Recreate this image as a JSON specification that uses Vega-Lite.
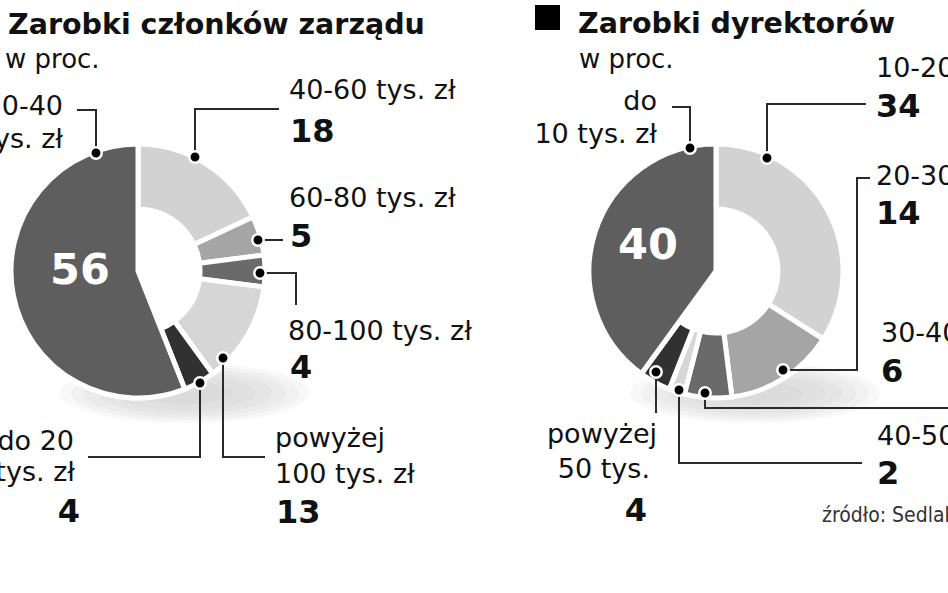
{
  "$schema": "https://vega.github.io/schema/vega-lite/v6.json",
  "width": 948,
  "height": 593,
  "padding": 0,
  "autosize": {"type": "none"},
  "background": "white",
  "config": {"view": {"stroke": null}},
  "datasets": {
    "seg": [
      {"chart": "L", "label": "40-60 tys. zł", "value": 18, "idx": 1},
      {"chart": "L", "label": "60-80 tys. zł", "value": 5, "idx": 2},
      {"chart": "L", "label": "80-100 tys. zł", "value": 4, "idx": 3},
      {"chart": "L", "label": "powyżej 100 tys. zł", "value": 13, "idx": 4},
      {"chart": "L", "label": "do 20 tys. zł", "value": 4, "idx": 5},
      {"chart": "L", "label": "20-40 tys. zł", "value": 56, "idx": 6},
      {"chart": "R", "label": "10-20 tys. zł", "value": 34, "idx": 1},
      {"chart": "R", "label": "20-30 tys. zł", "value": 14, "idx": 2},
      {"chart": "R", "label": "30-40 tys. zł", "value": 6, "idx": 3},
      {"chart": "R", "label": "40-50 tys. zł", "value": 2, "idx": 4},
      {"chart": "R", "label": "powyżej 50 tys. zł", "value": 4, "idx": 5},
      {"chart": "R", "label": "do 10 tys. zł", "value": 40, "idx": 6}
    ],
    "shadow": [
      {"chart": "L", "ring": 1, "x": 185, "y": 393}, {"chart": "R", "ring": 1, "x": 755, "y": 393},
      {"chart": "L", "ring": 2, "x": 185, "y": 393}, {"chart": "R", "ring": 2, "x": 755, "y": 393},
      {"chart": "L", "ring": 3, "x": 185, "y": 393}, {"chart": "R", "ring": 3, "x": 755, "y": 393},
      {"chart": "L", "ring": 4, "x": 185, "y": 393}, {"chart": "R", "ring": 4, "x": 755, "y": 393},
      {"chart": "L", "ring": 5, "x": 185, "y": 393}, {"chart": "R", "ring": 5, "x": 755, "y": 393},
      {"chart": "L", "ring": 6, "x": 185, "y": 393}, {"chart": "R", "ring": 6, "x": 755, "y": 393}
    ],
    "lines": [
      {"lid": "L1", "seq": 1, "x": 77, "y": 110}, {"lid": "L1", "seq": 2, "x": 96, "y": 110}, {"lid": "L1", "seq": 3, "x": 96, "y": 153},
      {"lid": "L2", "seq": 1, "x": 279, "y": 109}, {"lid": "L2", "seq": 2, "x": 195, "y": 109}, {"lid": "L2", "seq": 3, "x": 195, "y": 157},
      {"lid": "L3", "seq": 1, "x": 258, "y": 240}, {"lid": "L3", "seq": 2, "x": 283, "y": 240},
      {"lid": "L4", "seq": 1, "x": 260, "y": 273}, {"lid": "L4", "seq": 2, "x": 296, "y": 273}, {"lid": "L4", "seq": 3, "x": 296, "y": 305},
      {"lid": "L5", "seq": 1, "x": 223, "y": 358}, {"lid": "L5", "seq": 2, "x": 223, "y": 457}, {"lid": "L5", "seq": 3, "x": 265, "y": 457},
      {"lid": "L6", "seq": 1, "x": 200, "y": 383}, {"lid": "L6", "seq": 2, "x": 200, "y": 457}, {"lid": "L6", "seq": 3, "x": 88, "y": 457},
      {"lid": "R1", "seq": 1, "x": 672, "y": 107}, {"lid": "R1", "seq": 2, "x": 690, "y": 107}, {"lid": "R1", "seq": 3, "x": 690, "y": 148},
      {"lid": "R2", "seq": 1, "x": 767, "y": 158}, {"lid": "R2", "seq": 2, "x": 767, "y": 104}, {"lid": "R2", "seq": 3, "x": 866, "y": 104},
      {"lid": "R3", "seq": 1, "x": 870, "y": 178}, {"lid": "R3", "seq": 2, "x": 857, "y": 178}, {"lid": "R3", "seq": 3, "x": 857, "y": 370}, {"lid": "R3", "seq": 4, "x": 783, "y": 370},
      {"lid": "R4", "seq": 1, "x": 705, "y": 393}, {"lid": "R4", "seq": 2, "x": 705, "y": 408}, {"lid": "R4", "seq": 3, "x": 960, "y": 408},
      {"lid": "R5", "seq": 1, "x": 679, "y": 390}, {"lid": "R5", "seq": 2, "x": 679, "y": 463}, {"lid": "R5", "seq": 3, "x": 862, "y": 463},
      {"lid": "R6", "seq": 1, "x": 656, "y": 372}, {"lid": "R6", "seq": 2, "x": 656, "y": 413}
    ],
    "dots": [
      {"x": 96, "y": 153}, {"x": 195, "y": 157}, {"x": 258, "y": 240}, {"x": 260, "y": 273}, {"x": 223, "y": 358}, {"x": 200, "y": 383},
      {"x": 690, "y": 148}, {"x": 767, "y": 158}, {"x": 783, "y": 370}, {"x": 705, "y": 393}, {"x": 679, "y": 390}, {"x": 656, "y": 372}
    ],
    "marker": [{"x": 547.5, "y": 17.5}],
    "texts": [
      {"role": "title", "t": "Zarobki członków zarządu", "x": 8, "y": 34},
      {"role": "title", "t": "Zarobki dyrektorów", "x": 578, "y": 33},
      {"role": "sub", "t": "w proc.", "x": 5, "y": 68},
      {"role": "sub", "t": "w proc.", "x": 579, "y": 68},
      {"role": "rangeR", "t": "20-40", "x": 63, "y": 115},
      {"role": "rangeR", "t": "tys. zł", "x": 63, "y": 148},
      {"role": "rangeL", "t": "40-60 tys. zł", "x": 289, "y": 99},
      {"role": "numL", "t": "18", "x": 290, "y": 142},
      {"role": "rangeL", "t": "60-80 tys. zł", "x": 289, "y": 207},
      {"role": "numL", "t": "5", "x": 290, "y": 247},
      {"role": "rangeL", "t": "80-100 tys. zł", "x": 288, "y": 340},
      {"role": "numL", "t": "4", "x": 290, "y": 378},
      {"role": "rangeL", "t": "powyżej", "x": 275, "y": 447},
      {"role": "rangeL", "t": "100 tys. zł", "x": 275, "y": 483},
      {"role": "numL", "t": "13", "x": 276, "y": 523},
      {"role": "rangeR", "t": "do 20", "x": 74, "y": 450},
      {"role": "rangeR", "t": "tys. zł", "x": 75, "y": 481},
      {"role": "numR", "t": "4", "x": 80, "y": 522},
      {"role": "big", "t": "56", "x": 80, "y": 284},
      {"role": "rangeR", "t": "do", "x": 657, "y": 110},
      {"role": "rangeR", "t": "10 tys. zł", "x": 657, "y": 143},
      {"role": "rangeL", "t": "10-20 tys. zł", "x": 876, "y": 77},
      {"role": "numL", "t": "34", "x": 876, "y": 117},
      {"role": "rangeL", "t": "20-30 tys. zł", "x": 876, "y": 185},
      {"role": "numL", "t": "14", "x": 876, "y": 224},
      {"role": "rangeL", "t": "30-40 tys. zł", "x": 881, "y": 342},
      {"role": "numL", "t": "6", "x": 881, "y": 382},
      {"role": "rangeL", "t": "40-50 tys. zł", "x": 877, "y": 445},
      {"role": "numL", "t": "2", "x": 877, "y": 484},
      {"role": "rangeR", "t": "powyżej", "x": 657, "y": 443},
      {"role": "rangeR", "t": "50 tys.", "x": 650, "y": 478},
      {"role": "numR", "t": "4", "x": 647, "y": 521},
      {"role": "big", "t": "40", "x": 648, "y": 259},
      {"role": "source", "t": "źródło: Sedlak & Sedlak", "x": 822, "y": 522}
    ]
  },
  "layer": [
    {
      "data": {"name": "shadow"},
      "mark": {"type": "point", "shape": "M-1,0A1,0.24,0,1,0,1,0A1,0.24,0,1,0,-1,0Z", "filled": true, "color": "#a8a8a8", "opacity": 0.08, "strokeWidth": 0},
      "encoding": {
        "x": {"field": "x", "type": "quantitative", "scale": {"domain": [0, 948], "nice": false, "zero": false}, "axis": null},
        "y": {"field": "y", "type": "quantitative", "scale": {"domain": [0, 593], "reverse": true, "nice": false, "zero": false}, "axis": null},
        "size": {"field": "ring", "type": "quantitative", "scale": {"type": "linear", "domain": [1, 6], "range": [62500, 9000], "zero": false}, "legend": null},
        "order": {"field": "ring", "type": "quantitative"}
      }
    },
    {
      "data": {"name": "seg"},
      "transform": [{"filter": "datum.chart === 'L'"}],
      "mark": {"type": "arc", "innerRadius": 62, "outerRadius": 127, "stroke": "white", "strokeWidth": 5},
      "encoding": {
        "x": {"datum": 138, "type": "quantitative", "scale": {"domain": [0, 948], "nice": false, "zero": false}, "axis": null},
        "y": {"datum": 271, "type": "quantitative", "scale": {"domain": [0, 593], "reverse": true, "nice": false, "zero": false}, "axis": null},
        "theta": {"field": "value", "type": "quantitative", "stack": true},
        "order": {"field": "idx", "type": "quantitative"},
        "color": {"field": "idx", "type": "ordinal", "scale": {"domain": [1, 2, 3, 4, 5, 6], "range": ["#d2d2d2", "#a5a5a5", "#6a6a6a", "#d6d6d6", "#313131", "#5e5e5e"]}, "legend": null}
      }
    },
    {
      "data": {"name": "seg"},
      "transform": [{"filter": "datum.chart === 'L'"}],
      "mark": {"type": "arc", "innerRadius": 0, "outerRadius": 127, "stroke": "white", "strokeWidth": 5},
      "encoding": {
        "x": {"datum": 138, "type": "quantitative", "scale": {"domain": [0, 948], "nice": false, "zero": false}, "axis": null},
        "y": {"datum": 271, "type": "quantitative", "scale": {"domain": [0, 593], "reverse": true, "nice": false, "zero": false}, "axis": null},
        "theta": {"field": "value", "type": "quantitative", "stack": true},
        "order": {"field": "idx", "type": "quantitative"},
        "color": {"field": "idx", "type": "ordinal", "scale": {"domain": [1, 2, 3, 4, 5, 6], "range": ["#d2d2d2", "#a5a5a5", "#6a6a6a", "#d6d6d6", "#313131", "#5e5e5e"]}, "legend": null},
        "opacity": {"condition": {"test": "datum.idx === 6", "value": 1}, "value": 0}
      }
    },
    {
      "data": {"name": "seg"},
      "transform": [{"filter": "datum.chart === 'R'"}],
      "mark": {"type": "arc", "innerRadius": 62, "outerRadius": 127, "stroke": "white", "strokeWidth": 5},
      "encoding": {
        "x": {"datum": 716, "type": "quantitative", "scale": {"domain": [0, 948], "nice": false, "zero": false}, "axis": null},
        "y": {"datum": 271, "type": "quantitative", "scale": {"domain": [0, 593], "reverse": true, "nice": false, "zero": false}, "axis": null},
        "theta": {"field": "value", "type": "quantitative", "stack": true},
        "order": {"field": "idx", "type": "quantitative"},
        "color": {"field": "idx", "type": "ordinal", "scale": {"domain": [1, 2, 3, 4, 5, 6], "range": ["#d2d2d2", "#a5a5a5", "#6a6a6a", "#d6d6d6", "#313131", "#5e5e5e"]}, "legend": null}
      }
    },
    {
      "data": {"name": "seg"},
      "transform": [{"filter": "datum.chart === 'R'"}],
      "mark": {"type": "arc", "innerRadius": 0, "outerRadius": 127, "stroke": "white", "strokeWidth": 5},
      "encoding": {
        "x": {"datum": 716, "type": "quantitative", "scale": {"domain": [0, 948], "nice": false, "zero": false}, "axis": null},
        "y": {"datum": 271, "type": "quantitative", "scale": {"domain": [0, 593], "reverse": true, "nice": false, "zero": false}, "axis": null},
        "theta": {"field": "value", "type": "quantitative", "stack": true},
        "order": {"field": "idx", "type": "quantitative"},
        "color": {"field": "idx", "type": "ordinal", "scale": {"domain": [1, 2, 3, 4, 5, 6], "range": ["#d2d2d2", "#a5a5a5", "#6a6a6a", "#d6d6d6", "#313131", "#5e5e5e"]}, "legend": null},
        "opacity": {"condition": {"test": "datum.idx === 6", "value": 1}, "value": 0}
      }
    },
    {
      "data": {"name": "lines"},
      "mark": {"type": "line", "color": "#2a2a2a", "strokeWidth": 2, "interpolate": "linear"},
      "encoding": {
        "x": {"field": "x", "type": "quantitative", "scale": {"domain": [0, 948], "nice": false, "zero": false}, "axis": null},
        "y": {"field": "y", "type": "quantitative", "scale": {"domain": [0, 593], "reverse": true, "nice": false, "zero": false}, "axis": null},
        "detail": {"field": "lid", "type": "nominal"},
        "order": {"field": "seq", "type": "quantitative"}
      }
    },
    {
      "data": {"name": "dots"},
      "mark": {"type": "point", "shape": "circle", "filled": true, "fill": "#000000", "stroke": "white", "strokeWidth": 2.5, "size": 130, "opacity": 1},
      "encoding": {
        "x": {"field": "x", "type": "quantitative", "scale": {"domain": [0, 948], "nice": false, "zero": false}, "axis": null},
        "y": {"field": "y", "type": "quantitative", "scale": {"domain": [0, 593], "reverse": true, "nice": false, "zero": false}, "axis": null}
      }
    },
    {
      "data": {"name": "marker"},
      "mark": {"type": "point", "shape": "square", "filled": true, "color": "#000000", "size": 625, "opacity": 1},
      "encoding": {
        "x": {"field": "x", "type": "quantitative", "scale": {"domain": [0, 948], "nice": false, "zero": false}, "axis": null},
        "y": {"field": "y", "type": "quantitative", "scale": {"domain": [0, 593], "reverse": true, "nice": false, "zero": false}, "axis": null}
      }
    },
    {
      "data": {"name": "texts"},
      "transform": [{"filter": "datum.role === 'title'"}],
      "mark": {"type": "text", "align": "left", "baseline": "alphabetic", "font": "DejaVu Sans", "fontWeight": "bold", "fontSize": 28.5, "color": "#111111"},
      "encoding": {
        "x": {"field": "x", "type": "quantitative", "scale": {"domain": [0, 948], "nice": false, "zero": false}, "axis": null},
        "y": {"field": "y", "type": "quantitative", "scale": {"domain": [0, 593], "reverse": true, "nice": false, "zero": false}, "axis": null},
        "text": {"field": "t", "type": "nominal"}
      }
    },
    {
      "data": {"name": "texts"},
      "transform": [{"filter": "datum.role === 'sub'"}],
      "mark": {"type": "text", "align": "left", "baseline": "alphabetic", "font": "DejaVu Sans", "fontSize": 26, "color": "#111111"},
      "encoding": {
        "x": {"field": "x", "type": "quantitative", "scale": {"domain": [0, 948], "nice": false, "zero": false}, "axis": null},
        "y": {"field": "y", "type": "quantitative", "scale": {"domain": [0, 593], "reverse": true, "nice": false, "zero": false}, "axis": null},
        "text": {"field": "t", "type": "nominal"}
      }
    },
    {
      "data": {"name": "texts"},
      "transform": [{"filter": "datum.role === 'rangeL'"}],
      "mark": {"type": "text", "align": "left", "baseline": "alphabetic", "font": "DejaVu Sans", "fontSize": 27, "color": "#111111"},
      "encoding": {
        "x": {"field": "x", "type": "quantitative", "scale": {"domain": [0, 948], "nice": false, "zero": false}, "axis": null},
        "y": {"field": "y", "type": "quantitative", "scale": {"domain": [0, 593], "reverse": true, "nice": false, "zero": false}, "axis": null},
        "text": {"field": "t", "type": "nominal"}
      }
    },
    {
      "data": {"name": "texts"},
      "transform": [{"filter": "datum.role === 'rangeR'"}],
      "mark": {"type": "text", "align": "right", "baseline": "alphabetic", "font": "DejaVu Sans", "fontSize": 27, "color": "#111111"},
      "encoding": {
        "x": {"field": "x", "type": "quantitative", "scale": {"domain": [0, 948], "nice": false, "zero": false}, "axis": null},
        "y": {"field": "y", "type": "quantitative", "scale": {"domain": [0, 593], "reverse": true, "nice": false, "zero": false}, "axis": null},
        "text": {"field": "t", "type": "nominal"}
      }
    },
    {
      "data": {"name": "texts"},
      "transform": [{"filter": "datum.role === 'numL'"}],
      "mark": {"type": "text", "align": "left", "baseline": "alphabetic", "font": "DejaVu Sans", "fontWeight": "bold", "fontSize": 32, "color": "#111111"},
      "encoding": {
        "x": {"field": "x", "type": "quantitative", "scale": {"domain": [0, 948], "nice": false, "zero": false}, "axis": null},
        "y": {"field": "y", "type": "quantitative", "scale": {"domain": [0, 593], "reverse": true, "nice": false, "zero": false}, "axis": null},
        "text": {"field": "t", "type": "nominal"}
      }
    },
    {
      "data": {"name": "texts"},
      "transform": [{"filter": "datum.role === 'numR'"}],
      "mark": {"type": "text", "align": "right", "baseline": "alphabetic", "font": "DejaVu Sans", "fontWeight": "bold", "fontSize": 32, "color": "#111111"},
      "encoding": {
        "x": {"field": "x", "type": "quantitative", "scale": {"domain": [0, 948], "nice": false, "zero": false}, "axis": null},
        "y": {"field": "y", "type": "quantitative", "scale": {"domain": [0, 593], "reverse": true, "nice": false, "zero": false}, "axis": null},
        "text": {"field": "t", "type": "nominal"}
      }
    },
    {
      "data": {"name": "texts"},
      "transform": [{"filter": "datum.role === 'big'"}],
      "mark": {"type": "text", "align": "center", "baseline": "alphabetic", "font": "DejaVu Sans", "fontWeight": "bold", "fontSize": 43, "color": "#ffffff"},
      "encoding": {
        "x": {"field": "x", "type": "quantitative", "scale": {"domain": [0, 948], "nice": false, "zero": false}, "axis": null},
        "y": {"field": "y", "type": "quantitative", "scale": {"domain": [0, 593], "reverse": true, "nice": false, "zero": false}, "axis": null},
        "text": {"field": "t", "type": "nominal"}
      }
    },
    {
      "data": {"name": "texts"},
      "transform": [{"filter": "datum.role === 'source'"}],
      "mark": {"type": "text", "align": "left", "baseline": "alphabetic", "font": "DejaVu Sans Condensed", "fontSize": 21, "color": "#333333"},
      "encoding": {
        "x": {"field": "x", "type": "quantitative", "scale": {"domain": [0, 948], "nice": false, "zero": false}, "axis": null},
        "y": {"field": "y", "type": "quantitative", "scale": {"domain": [0, 593], "reverse": true, "nice": false, "zero": false}, "axis": null},
        "text": {"field": "t", "type": "nominal"}
      }
    }
  ]
}
